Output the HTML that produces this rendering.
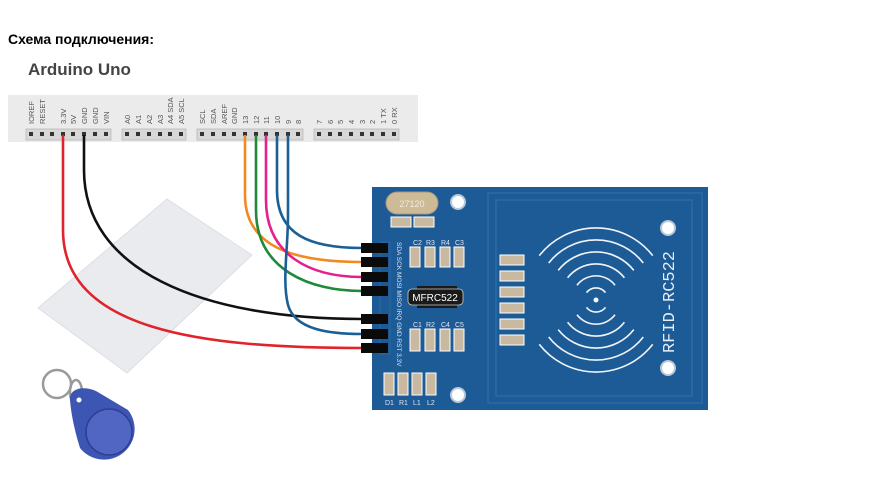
<!DOCTYPE html>
<html><head><meta charset="utf-8"><style>
html,body{margin:0;padding:0;background:#fff;width:888px;height:482px;overflow:hidden}
svg{display:block}
</style></head><body>
<svg width="888" height="482" viewBox="0 0 888 482" xmlns="http://www.w3.org/2000/svg" font-family="Liberation Sans, sans-serif">
<text x="8" y="44" font-size="14" font-weight="bold" fill="#000" font-family="Liberation Sans, Noto Sans CJK SC, sans-serif">Схема подключения:</text>
<text x="28" y="75" font-size="17" font-weight="bold" fill="#444">Arduino Uno</text>

<rect x="8" y="95" width="410" height="47" fill="#ebebeb"/>
<g fill="#d8d8d8" stroke="#aaa" stroke-width="0.6">
<rect x="26" y="129" width="85" height="11"/>
<rect x="122" y="129" width="64" height="11"/>
<rect x="197" y="129" width="106" height="11"/>
<rect x="314" y="129" width="85" height="11"/>
</g>
<g fill="#333">
<rect x="29" y="132" width="4" height="4"/><rect x="40" y="132" width="4" height="4"/><rect x="50" y="132" width="4" height="4"/><rect x="61" y="132" width="4" height="4"/><rect x="71" y="132" width="4" height="4"/><rect x="82" y="132" width="4" height="4"/><rect x="93" y="132" width="4" height="4"/><rect x="104" y="132" width="4" height="4"/>
<rect x="125" y="132" width="4" height="4"/><rect x="136" y="132" width="4" height="4"/><rect x="147" y="132" width="4" height="4"/><rect x="158" y="132" width="4" height="4"/><rect x="168" y="132" width="4" height="4"/><rect x="179" y="132" width="4" height="4"/>
<rect x="200" y="132" width="4" height="4"/><rect x="211" y="132" width="4" height="4"/><rect x="222" y="132" width="4" height="4"/><rect x="232" y="132" width="4" height="4"/><rect x="243" y="132" width="4" height="4"/><rect x="254" y="132" width="4" height="4"/><rect x="264" y="132" width="4" height="4"/><rect x="275" y="132" width="4" height="4"/><rect x="286" y="132" width="4" height="4"/><rect x="296" y="132" width="4" height="4"/>
<rect x="317" y="132" width="4" height="4"/><rect x="328" y="132" width="4" height="4"/><rect x="338" y="132" width="4" height="4"/><rect x="349" y="132" width="4" height="4"/><rect x="360" y="132" width="4" height="4"/><rect x="370" y="132" width="4" height="4"/><rect x="381" y="132" width="4" height="4"/><rect x="392" y="132" width="4" height="4"/>
</g>
<g font-size="7.5" fill="#555">
<text transform="translate(34,124) rotate(-90)">IOREF</text>
<text transform="translate(45,124) rotate(-90)">RESET</text>
<text transform="translate(66,124) rotate(-90)">3.3V</text>
<text transform="translate(76,124) rotate(-90)">5V</text>
<text transform="translate(87,124) rotate(-90)">GND</text>
<text transform="translate(98,124) rotate(-90)">GND</text>
<text transform="translate(109,124) rotate(-90)">VIN</text>
<text transform="translate(130,124) rotate(-90)">A0</text>
<text transform="translate(141,124) rotate(-90)">A1</text>
<text transform="translate(152,124) rotate(-90)">A2</text>
<text transform="translate(163,124) rotate(-90)">A3</text>
<text transform="translate(173,124) rotate(-90)">A4 SDA</text>
<text transform="translate(184,124) rotate(-90)">A5 SCL</text>
<text transform="translate(205,124) rotate(-90)">SCL</text>
<text transform="translate(216,124) rotate(-90)">SDA</text>
<text transform="translate(227,124) rotate(-90)">AREF</text>
<text transform="translate(237,124) rotate(-90)">GND</text>
<text transform="translate(248,124) rotate(-90)">13</text>
<text transform="translate(259,124) rotate(-90)">12</text>
<text transform="translate(269,124) rotate(-90)">11</text>
<text transform="translate(280,124) rotate(-90)">10</text>
<text transform="translate(291,124) rotate(-90)">9</text>
<text transform="translate(301,124) rotate(-90)">8</text>
<text transform="translate(322,124) rotate(-90)">7</text>
<text transform="translate(333,124) rotate(-90)">6</text>
<text transform="translate(343,124) rotate(-90)">5</text>
<text transform="translate(354,124) rotate(-90)">4</text>
<text transform="translate(365,124) rotate(-90)">3</text>
<text transform="translate(375,124) rotate(-90)">2</text>
<text transform="translate(386,124) rotate(-90)">1 TX</text>
<text transform="translate(397,124) rotate(-90)">0 RX</text>
</g>

<polygon points="167,199 252,255 127,373 38,308" fill="#e9ebef" stroke="#dcdee3" stroke-width="1" stroke-linejoin="round"/>

<circle cx="57" cy="384" r="14" fill="none" stroke="#9a9a9a" stroke-width="2.5"/>
<ellipse cx="76" cy="392" rx="6" ry="12" fill="none" stroke="#9a9a9a" stroke-width="2.5"/>
<path d="M70,400 C69,389 82,385 96,391 L128,410 A29,29 0 1,1 80,448 C75,432 71,414 70,400 Z" fill="#3d56b3"/>
<circle cx="109" cy="432" r="23" fill="#5166c2" stroke="#2c3f93" stroke-width="1.5"/>
<circle cx="79" cy="400" r="2.5" fill="#fff"/>

<rect x="372" y="187" width="336" height="223" fill="#1d5b97"/>
<rect x="488" y="193" width="214" height="210" fill="none" stroke="#2b6aa5" stroke-width="1.5"/>
<rect x="496" y="200" width="196" height="196" fill="none" stroke="#2b6aa5" stroke-width="1.5"/>
<rect x="380" y="242" width="10" height="112" fill="none" stroke="#2b6aa5" stroke-width="1"/>
<g fill="#fff" stroke="#b9c7d6" stroke-width="2">
<circle cx="458" cy="202" r="7"/><circle cx="668" cy="228" r="7"/><circle cx="668" cy="368" r="7"/><circle cx="458" cy="395" r="7"/>
</g>
<rect x="386" y="192" width="52" height="22" rx="11" fill="#cdbb98" stroke="#a8987a"/>
<text x="412" y="207" font-size="9" fill="#f3ead8" text-anchor="middle">27120</text>
<g fill="#c9b9a0" stroke="#fff" stroke-width="1">
<rect x="391" y="217" width="20" height="10"/><rect x="414" y="217" width="20" height="10"/>
<rect x="410" y="247" width="10" height="20"/><rect x="425" y="247" width="10" height="20"/><rect x="440" y="247" width="10" height="20"/><rect x="454" y="247" width="10" height="20"/>
<rect x="410" y="329" width="10" height="22"/><rect x="425" y="329" width="10" height="22"/><rect x="440" y="329" width="10" height="22"/><rect x="454" y="329" width="10" height="22"/>
<rect x="384" y="373" width="10" height="22"/><rect x="398" y="373" width="10" height="22"/><rect x="412" y="373" width="10" height="22"/><rect x="426" y="373" width="10" height="22"/>
<rect x="500" y="255" width="24" height="10"/><rect x="500" y="271" width="24" height="10"/><rect x="500" y="287" width="24" height="10"/><rect x="500" y="303" width="24" height="10"/><rect x="500" y="319" width="24" height="10"/><rect x="500" y="335" width="24" height="10"/>
</g>
<g font-size="7" fill="#dde6f0">
<text x="413" y="245">C2</text><text x="426" y="245">R3</text><text x="441" y="245">R4</text><text x="455" y="245">C3</text>
<text x="413" y="327">C1</text><text x="426" y="327">R2</text><text x="441" y="327">C4</text><text x="455" y="327">C5</text>
<text x="385" y="405">D1</text><text x="399" y="405">R1</text><text x="413" y="405">L1</text><text x="427" y="405">L2</text>
</g>
<rect x="417" y="286" width="40" height="22" fill="#1a1a1a"/>
<rect x="408" y="289" width="55" height="16" rx="4" fill="#1a1a1a" stroke="#ccc" stroke-width="0.8"/>
<text x="435" y="301" font-size="10" fill="#fff" text-anchor="middle">MFRC522</text>
<text transform="translate(397,242) rotate(90)" font-size="6.5" fill="#dde6f0">SDA SCK MOSI MISO IRQ GND RST 3.3V</text>
<g fill="none" stroke="#f2f5f8" stroke-width="1.6">
<path d="M586.5,292.6 A12,12 0 0,1 605.5,292.6"/>
<path d="M577,285.2 A24,24 0 0,1 615,285.2"/>
<path d="M567.6,277.8 A36,36 0 0,1 624.4,277.8"/>
<path d="M558.2,270.4 A48,48 0 0,1 633.8,270.4"/>
<path d="M548.7,263 A60,60 0 0,1 643.3,263"/>
<path d="M539.3,255.6 A72,72 0 0,1 652.7,255.6"/>
<path d="M586.5,307.4 A12,12 0 0,0 605.5,307.4"/>
<path d="M577,314.8 A24,24 0 0,0 615,314.8"/>
<path d="M567.6,322.2 A36,36 0 0,0 624.4,322.2"/>
<path d="M558.2,329.6 A48,48 0 0,0 633.8,329.6"/>
<path d="M548.7,337 A60,60 0 0,0 643.3,337"/>
<path d="M539.3,344.4 A72,72 0 0,0 652.7,344.4"/>
</g>
<circle cx="596" cy="300" r="2.5" fill="#f2f5f8"/>
<text transform="translate(674,302) rotate(-90)" font-size="17" fill="#e6edf5" text-anchor="middle" font-family="Liberation Mono, monospace">RFID-RC522</text>

<g fill="none" stroke-width="2.6">
<path d="M63,135 L63,230 C63,330 200,348 362,348" stroke="#e0242b"/>
<path d="M84,135 L84,170 C84,270 200,319 362,319" stroke="#111"/>
<path d="M245,135 L245,195 C245,250 300,262 362,262" stroke="#f28a20"/>
<path d="M256,135 L256,210 C256,270 310,291 362,291" stroke="#1e8a3a"/>
<path d="M266,135 L266,200 C266,255 310,277 362,277" stroke="#e4208e"/>
<path d="M277,135 L277,190 C277,235 310,248 362,248" stroke="#1c5f95"/>
<path d="M288,135 L288,215 C288,250 282,280 288,305 C295,330 330,334 362,334" stroke="#1c5f95"/>
</g>
<g fill="#0a0a0a">
<rect x="361" y="243" width="27" height="10"/><rect x="361" y="257" width="27" height="10"/><rect x="361" y="272" width="27" height="10"/><rect x="361" y="286" width="27" height="10"/>
<rect x="361" y="314" width="27" height="10"/><rect x="361" y="329" width="27" height="10"/><rect x="361" y="343" width="27" height="10"/>
</g>
</svg>
</body></html>
